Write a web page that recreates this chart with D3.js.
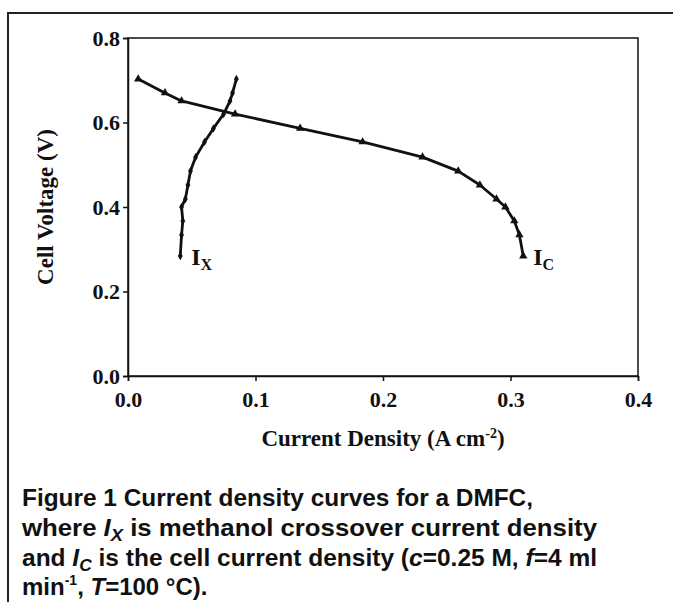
<!DOCTYPE html>
<html><head><meta charset="utf-8">
<script src="https://cdn.jsdelivr.net/npm/d3@7"></script>
<style>html,body{margin:0;padding:0;background:#fff;}svg{display:block;}</style>
</head><body>
<script>
const voltages = [0.703, 0.670, 0.651, 0.620, 0.586, 0.554, 0.518, 0.485, 0.452, 0.419, 0.400, 0.367, 0.334, 0.284];
const icCurrent = [0.008, 0.029, 0.042, 0.084, 0.135, 0.184, 0.231, 0.259, 0.276, 0.289, 0.296, 0.303, 0.307, 0.310];
const ixCurrent = [0.085, 0.082, 0.080, 0.075, 0.067, 0.060, 0.053, 0.049, 0.047, 0.045, 0.042, 0.043, 0.042, 0.041];
const xTicks = [0.0, 0.1, 0.2, 0.3, 0.4];
const yTicks = [0.0, 0.2, 0.4, 0.6, 0.8];
const captionLines = [
  [["Figure 1 Current density curves for a DMFC,", ""]],
  [["where ", ""], ["I", "i"], ["X", "isub"], [" is methanol crossover current density", ""]],
  [["and ", ""], ["I", "i"], ["C", "isub"], [" is the cell current density (", ""], ["c", "i"], ["=0.25 M, ", ""], ["f", "i"], ["=4 ml", ""]],
  [["min", ""], ["-1", "sup"], [", ", ""], ["T", "i"], ["=100 °C).", ""]]
];

const W = 673, H = 602;
const m = {left: 128, right: 638, top: 38, bottom: 376};
const svg = d3.select("body").append("svg").attr("width", W).attr("height", H);
svg.append("rect").attr("width", W).attr("height", H).attr("fill", "#fff");

// outer frame
svg.append("path").attr("d", `M8,${H} L8,13 L${W},13`).attr("fill", "none").attr("stroke", "#222").attr("stroke-width", 2);

const x = d3.scaleLinear().domain([0, 0.4]).range([m.left, m.right]);
const y = d3.scaleLinear().domain([0, 0.8]).range([m.bottom, m.top]);

const serif = "'Liberation Serif','Times New Roman',serif";

// plot frame
svg.append("rect").attr("x", m.left).attr("y", m.top).attr("width", m.right - m.left).attr("height", m.bottom - m.top)
  .attr("fill", "none").attr("stroke", "#111").attr("stroke-width", 1.5);

const xAxis = svg.append("g").attr("transform", `translate(0,${m.bottom})`)
  .call(d3.axisBottom(x).tickValues(xTicks).tickFormat(d3.format(".1f")).tickSize(5).tickPadding(10));
const yAxis = svg.append("g").attr("transform", `translate(${m.left},0)`)
  .call(d3.axisLeft(y).tickValues(yTicks).tickFormat(d3.format(".1f")).tickSize(5).tickPadding(3));
[xAxis, yAxis].forEach(g => {
  g.select(".domain").attr("stroke", "#111").attr("stroke-width", 1.5);
  g.selectAll(".tick line").attr("stroke", "#111").attr("stroke-width", 1.5);
  g.selectAll(".tick text").attr("fill", "#111").attr("font-family", serif).attr("font-weight", "bold").attr("font-size", 22);
});

// axis titles
svg.append("text").attr("x", 383).attr("y", 446).attr("text-anchor", "middle")
  .attr("font-family", serif).attr("font-weight", "bold").attr("font-size", 23).attr("fill", "#111")
  .call(t => { t.append("tspan").text("Current Density (A cm");
               t.append("tspan").attr("dy", -8).attr("font-size", 14).text("-2");
               t.append("tspan").attr("dy", 8).text(")"); });
svg.append("text").attr("transform", "translate(53,207) rotate(-90)").attr("text-anchor", "middle")
  .attr("font-family", serif).attr("font-weight", "bold").attr("font-size", 23).attr("fill", "#111")
  .text("Cell Voltage (V)");

const line = d3.line().x(d => x(d[0])).y(d => y(d[1]));
const icData = voltages.map((v, i) => [icCurrent[i], v]);
const ixData = voltages.map((v, i) => [ixCurrent[i], v]);

svg.append("path").datum(icData).attr("d", line).attr("fill", "none").attr("stroke", "#111").attr("stroke-width", 2.8).attr("stroke-linejoin", "round");
svg.append("path").datum(ixData).attr("d", line).attr("fill", "none").attr("stroke", "#111").attr("stroke-width", 2.8).attr("stroke-linejoin", "round");

svg.selectAll(".ic").data(icData).enter().append("path")
  .attr("transform", d => `translate(${x(d[0])},${y(d[1])})`)
  .attr("d", d3.symbol(d3.symbolTriangle, 30)).attr("fill", "#111");
svg.selectAll(".ix").data(ixData).enter().append("path")
  .attr("transform", d => `translate(${x(d[0])},${y(d[1])})`)
  .attr("d", d3.symbol(d3.symbolDiamond, 20)).attr("fill", "#111");

// curve labels
function curveLabel(px, py, sub) {
  const t = svg.append("text").attr("x", px).attr("y", py).attr("font-family", serif).attr("font-weight", "bold").attr("fill", "#111");
  t.append("tspan").attr("font-size", 24).text("I");
  t.append("tspan").attr("font-size", 16).attr("dy", 5).text(sub);
}
curveLabel(x(ixCurrent[ixCurrent.length - 1]) + 11, y(voltages[voltages.length - 1]) + 9, "X");
curveLabel(x(icCurrent[icCurrent.length - 1]) + 10, y(voltages[voltages.length - 1]) + 9, "C");

// caption
const capY = [506, 536, 566, 595];
const capW = [511, 575, 575, null];
captionLines.forEach((parts, li) => {
  const t = svg.append("text").attr("x", 22).attr("y", capY[li])
    .attr("font-family", "'Liberation Sans',Arial,sans-serif").attr("font-weight", "bold").attr("font-size", 24).attr("fill", "#111");
  parts.forEach(([s, k], i) => {
    const ts = t.append("tspan").text(s);
    if (k === "i") ts.attr("font-style", "italic");
    if (k === "isub") ts.attr("font-style", "italic").attr("font-size", 17).attr("dy", 5);
    if (k === "sup") ts.attr("font-size", 14).attr("dy", -10);
    if (i > 0) {
      const pk = parts[i - 1][1];
      if (pk === "isub" && k !== "isub") ts.attr("dy", -5);
      if (pk === "sup") ts.attr("dy", 10);
    }
  });
  if (capW[li]) t.attr("textLength", capW[li]).attr("lengthAdjust", "spacingAndGlyphs");
});
</script>
</body></html>
